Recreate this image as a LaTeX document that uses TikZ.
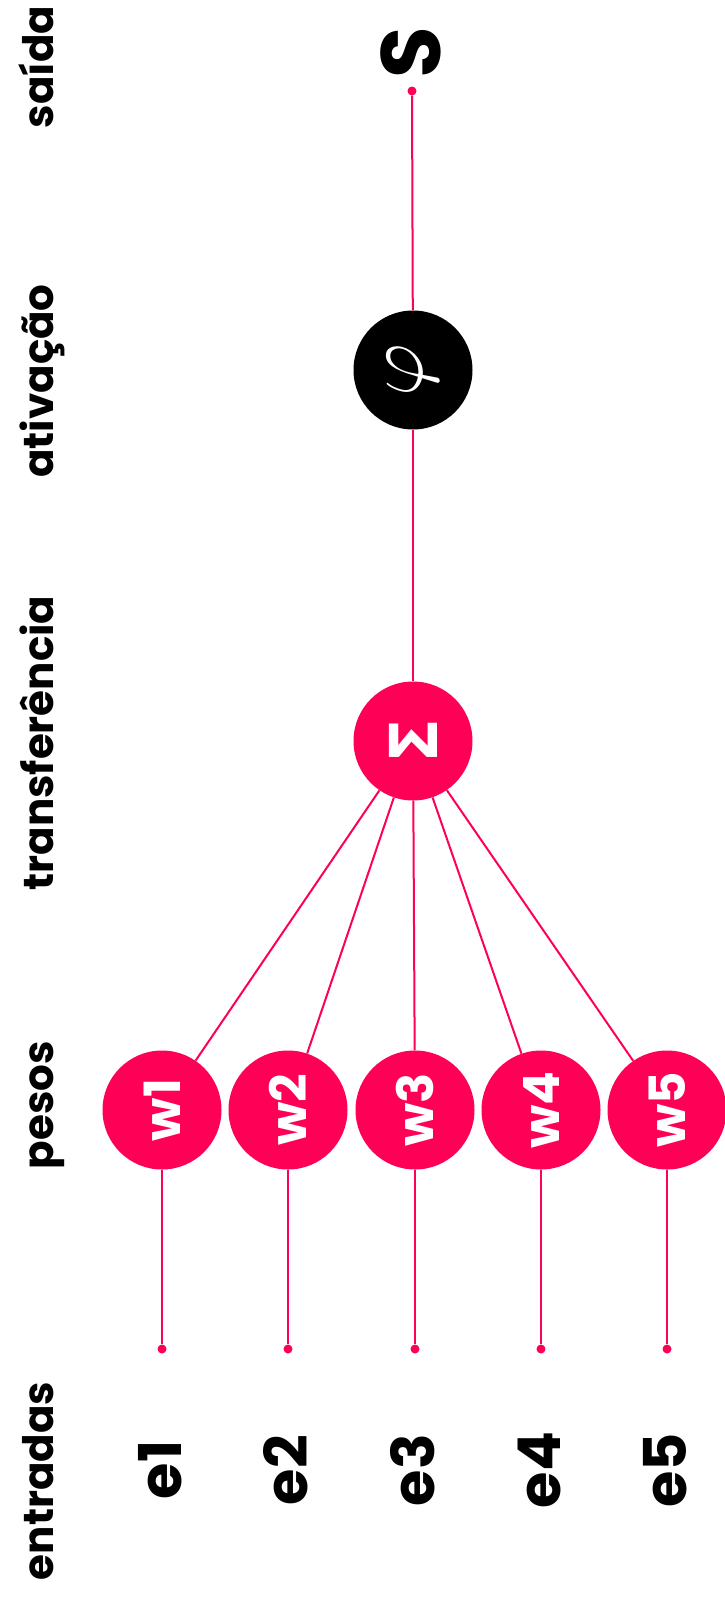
\RequirePackage{fix-cm}
\documentclass[tikz,border=0pt]{standalone}
\usepackage{fontspec}
\setmainfont{Poppins}
\newfontfamily\grego{DejaVu Sans}
\usepackage{tikz}

\definecolor{rosa}{HTML}{FF0057}

\tikzset{
  fio/.style={draw=rosa, line width=2pt},
  ponto/.style={circle, fill=rosa, inner sep=0pt, minimum size=9pt},
  bola/.style={circle, inner sep=0pt, minimum size=119pt, text=white, rotate=90},
  peso/.style={bola, fill=rosa, font=\fontsize{50}{50}\selectfont\bfseries},
  titulo/.style={anchor=base, rotate=90, font=\fontsize{42}{42}\selectfont\bfseries},
  entrada/.style={rotate=90, inner sep=0pt, font=\fontsize{59}{59}\selectfont\bfseries}
}

\begin{document}
\begin{tikzpicture}[x=1pt,y=-1pt]
			%%%%% START %%%%%
			\useasboundingbox (0,0) rectangle (725,1598);
			\fill[white] (0,0) rectangle (725,1598);
			
			\node[titulo] (tsaida) at (53, 67) {saída};
			\node[titulo] (tativ) at (53, 381) {ativação};
			\node[titulo] (ttransf) at (53, 743) {transferência};
			\node[titulo] (tpesos) at (53, 1105) {pesos};
			\node[titulo] (tentr) at (53, 1481) {entradas};
			
			\node[rotate=90, inner sep=0pt, font=\fontsize{84}{84}\selectfont\bfseries] (s) at (411, 53) {S};
			\node[ponto] (ds) at (412, 91) {};
			
			\node[bola, fill=black, font=\fontsize{82}{82}\selectfont] (phi) at (413, 370) {$\varphi$};
			\node[bola, fill=rosa, font=\grego\fontsize{66}{66}\selectfont\bfseries] (soma) at (413, 741) {Σ};
			
			\node[peso] (w1) at (162, 1110) {w1};
			\node[peso] (w2) at (288, 1110) {w2};
			\node[peso] (w3) at (415, 1110) {w3};
			\node[peso] (w4) at (541, 1110) {w4};
			\node[peso] (w5) at (667, 1110) {w5};
			
			\node[ponto] (d1) at (162, 1349) {};
			\node[ponto] (d2) at (288, 1349) {};
			\node[ponto] (d3) at (415, 1349) {};
			\node[ponto] (d4) at (541, 1349) {};
			\node[ponto] (d5) at (667, 1349) {};
			
			\node[entrada] (e1) at (160, 1470) {e1};
			\node[entrada] (e2) at (286, 1470) {e2};
			\node[entrada] (e3) at (413, 1470) {e3};
			\node[entrada] (e4) at (539, 1470) {e4};
			\node[entrada] (e5) at (665, 1470) {e5};
			
			\draw[fio] (ds) -- (phi);
			\draw[fio] (phi) -- (soma);
			
			\draw[fio] (soma) -- (w1);
			\draw[fio] (soma) -- (w2);
			\draw[fio] (soma) -- (w3);
			\draw[fio] (soma) -- (w4);
			\draw[fio] (soma) -- (w5);
			
			\draw[fio] (w1) -- (d1);
			\draw[fio] (w2) -- (d2);
			\draw[fio] (w3) -- (d3);
			\draw[fio] (w4) -- (d4);
			\draw[fio] (w5) -- (d5);
			%%%%% END %%%%%
\end{tikzpicture}
\end{document}
